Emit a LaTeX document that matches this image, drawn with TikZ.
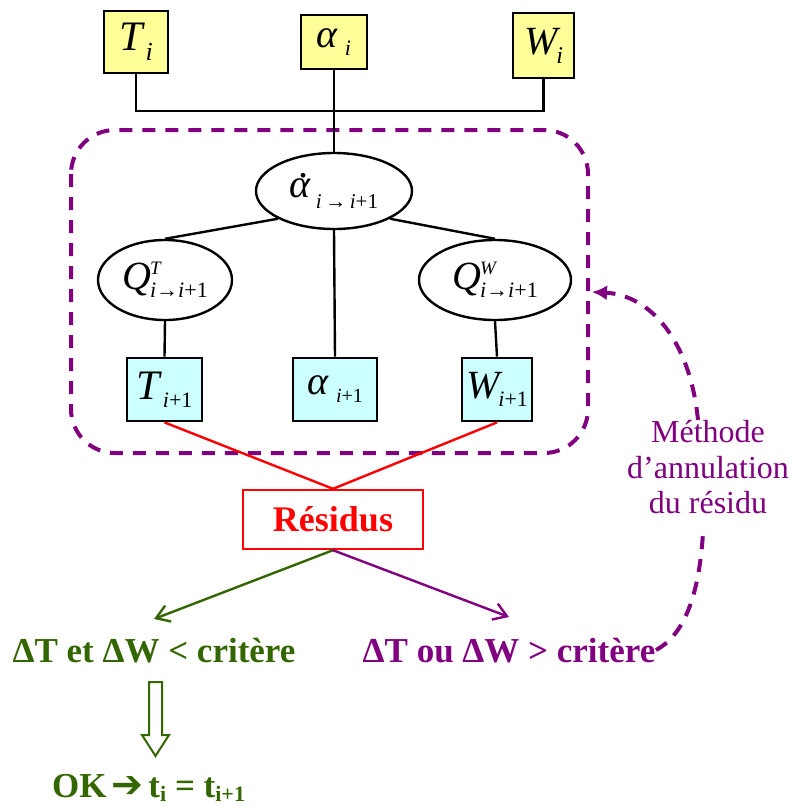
\documentclass[tikz,border=0pt]{standalone}
\usepackage{fontspec}
\setmainfont{Liberation Serif}
\newfontfamily\dvfont{DejaVu Sans}
\usetikzlibrary{shapes.geometric,arrows.meta}
\definecolor{ybox}{HTML}{FFFF99}
\definecolor{cbox}{HTML}{CCFFFF}
\definecolor{pur}{HTML}{800080}
\definecolor{grn}{HTML}{336600}
\newcommand{\fs}[1]{\fontsize{#1}{#1}\selectfont}
\newcommand{\dotalpha}{\rlap{\kern0.22em\raisebox{0.5em}{\upshape .}}α}
\tikzset{
  ybx/.style={draw, line width=2.8pt, fill=ybox, inner sep=0pt},
  cbx/.style={draw, line width=2.8pt, fill=cbox, inner sep=0pt},
  ell/.style={draw, ellipse, line width=2.4pt, fill=white, inner sep=0pt},
  conn/.style={line width=2.4pt},
  redl/.style={red, line width=2.4pt},
  pdash/.style={pur, line width=4pt, dash pattern=on 13pt off 10pt},
}
\begin{document}
\begin{tikzpicture}[x=1pt,y=-1pt]
\useasboundingbox (0,0) rectangle (791,807);

% dashed frame
\draw[pdash, rounded corners=44pt] (71,130) rectangle (588,453);

% top boxes
\node[ybx, minimum width=64pt, minimum height=62pt] (Ti) at (136,42)
  {\fs{42}\itshape T\kern3pt\raisebox{-10pt}{\fs{26}i}};
\node[ybx, minimum width=66pt, minimum height=54pt] (ai) at (334,42)
  {\fs{40}\itshape α\kern7pt\raisebox{-8pt}{\fs{22}i}};
\node[ybx, minimum width=61pt, minimum height=65pt] (Wi) at (543.5,45.5)
  {\fs{40}\itshape W\kern-1pt\raisebox{-9pt}{\fs{24}i}};

% ellipses
\node[ell, minimum width=156pt, minimum height=76pt] (adot) at (334,191)
  {\fs{40}\itshape\dotalpha\kern5pt\raisebox{-11pt}{\fs{21}i\,\upshape→\,\itshape i\upshape+1}};
\node[ell, minimum width=134pt, minimum height=80pt] (QT) at (165,280)
  {\fs{40}\itshape Q\kern-1pt\rlap{\raisebox{15pt}{\fs{19}T}}\raisebox{-8pt}{\fs{22}i\upshape→\itshape i\upshape+1}};
\node[ell, minimum width=152pt, minimum height=80pt] (QW) at (495,280)
  {\fs{40}\itshape Q\kern-1pt\rlap{\raisebox{15pt}{\fs{19}W}}\raisebox{-8pt}{\fs{22}i\upshape→\itshape i\upshape+1}};

% bottom boxes
\node[cbx, minimum width=75pt, minimum height=63pt] (T1) at (164.5,389.5)
  {\fs{42}\itshape T\kern3pt\raisebox{-8pt}{\fs{22}i\upshape+1}};
\node[cbx, minimum width=84pt, minimum height=63pt] (a1) at (335,389.5)
  {\fs{40}\itshape α\kern8pt\raisebox{-8pt}{\fs{20}i\upshape+1}};
\node[cbx, minimum width=70pt, minimum height=63pt] (W1) at (497,389.5)
  {\fs{40}\itshape W\kern-1pt\raisebox{-8pt}{\fs{22}i\upshape+1}};

% residus
\node[draw=red, line width=2.4pt, fill=white, minimum width=180pt, minimum height=59pt, inner sep=0pt,
  text=red, font=\fs{36}\bfseries] (res) at (333,519.5) {Résidus};

% top connectors
\coordinate (bus) at (335,111);
\draw[conn] (Ti.south) |- (bus) -| (Wi.south);
\draw[conn] (ai.south) -- (adot.north);
\draw[conn] (adot.south west) -- (QT.north);
\draw[conn] (adot.south east) -- (QW.north);
\draw[conn] (adot.south) -- (a1.north);
\draw[conn] (QT.south) -- (T1.north);
\draw[conn] (QW.south) -- (W1.north);

% red connectors
\draw[redl] (T1.south) -- (res.north);
\draw[redl] (W1.south) -- (res.north);

% outcome arrows
\coordinate (gend) at (154,619);
\coordinate (pend) at (509,617);
\draw[grn, line width=2.4pt, -{Straight Barb[length=13pt,width=17pt]}] (res.south) -- (gend);
\draw[pur, line width=2.4pt, -{Straight Barb[length=13pt,width=17pt]}] (res.south) -- (pend);

% outcome texts
\node[text=grn, font=\fs{35}\bfseries, anchor=base, inner sep=0pt] (ok1) at (154,662) {ΔT et ΔW < critère};
\node[text=pur, font=\fs{35}\bfseries, anchor=base, inner sep=0pt] (ko) at (509,662) {ΔT ou ΔW > critère};

% hollow down arrow
\draw[grn, line width=2pt, fill=white] (149,682) -- (162,682) -- (162,735) -- (169,735) -- (155.5,756) -- (142,735) -- (149,735) -- cycle;

% OK line
\node[text=grn, font=\fs{35}\bfseries, anchor=base west, inner sep=0pt] (okl) at (52,797)
  {OK\kern5pt{\dvfont\fs{38}➔}\kern5pt t\raisebox{-4pt}{\fs{22}i} = t\raisebox{-4pt}{\fs{22}i+1}};

% method label
\node[text=pur, font=\fs{32}, anchor=base, inner sep=0pt] (m1) at (708,442) {Méthode};
\node[text=pur, font=\fs{32}, anchor=base, inner sep=0pt] (m2) at (708,478) {d’annulation};
\node[text=pur, font=\fs{32}, anchor=base, inner sep=0pt] (m3) at (708,513) {du résidu};

% feedback dashed curve
\coordinate (c1) at (656,650);
\coordinate (c2) at (703,533);
\coordinate (c3) at (698,420);
\coordinate (ctip) at (592,292);
\draw[pdash] (c1) .. controls (690,632) and (700,580) .. (c2);
\draw[pdash, -{Latex[length=15pt,width=15pt]}] (c3) .. controls (690,340) and (650,295) .. (ctip);
\end{tikzpicture}
\end{document}
